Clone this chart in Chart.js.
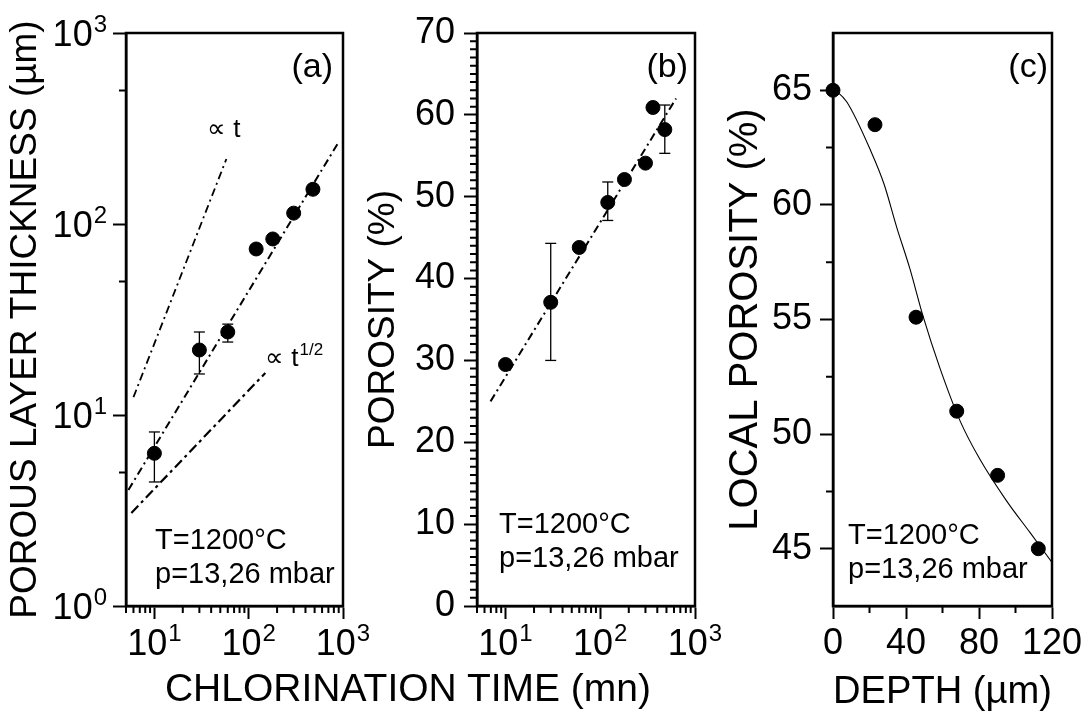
<!DOCTYPE html>
<html lang="en">
<head>
  <meta charset="UTF-8">
  <title>Porous layer growth during chlorination</title>
  <script src="https://cdn.jsdelivr.net/npm/chart.js"></script>
  <style>
    body { margin: 0; background: #fff; }
    #wrap { position: relative; width: 1088px; height: 713px; overflow: hidden; }
    canvas { position: absolute; top: 0; }
    #xtitle {
      position: absolute; top: 668px; left: 0; width: 816px; text-align: center;
      font-family: 'Liberation Sans', Arial, sans-serif; font-size: 39px; line-height: 39px; color: #000;
    }
  </style>
</head>
<body>
  <div id="wrap">
    <canvas id="chartA" width="400" height="713" style="left:0"></canvas>
    <canvas id="chartB" width="400" height="713" style="left:360px"></canvas>
    <canvas id="chartC" width="368" height="713" style="left:720px"></canvas>
    <div id="xtitle">CHLORINATION TIME (mn)</div>
  </div>
  <script>
    // (a) porous layer thickness (µm) vs chlorination time (mn)
    const timeA = [10, 30, 60, 120, 180, 300, 480];
    const thickA = [6.3, 21.9, 27.2, 74, 83.5, 114, 152];
    const thickLoA = [4.46, 16.4, 24.1, null, null, null, null];
    const thickHiA = [8.15, 27.2, 29.9, null, null, null, null];
    const fitTimeA = [5.3, 885];
    const fitThickA = [4.05, 265];
    const linTimeA = [6.0, 58];      // "∝ t" guide
    const linThickA = [12.4, 219];
    const sqrtTimeA = [5.7, 150];    // "∝ t^1/2" guide
    const sqrtThickA = [3.07, 16.6];

    // (b) porosity (%) vs chlorination time (mn)
    const timeB = [10, 30, 60, 120, 180, 300, 360, 480];
    const porB = [29.5, 37.1, 43.8, 49.3, 52.1, 54.1, 60.9, 58.2];
    const porLoB = [null, 30.0, null, 47.1, null, null, null, 55.3];
    const porHiB = [null, 44.3, null, 51.8, null, null, null, 61.2];
    const fitTimeB = [6.95, 631];
    const fitPorB = [25.0, 62.0];

    // (c) local porosity (%) vs depth (µm)
    const depthC = [0, 23, 45.5, 67.8, 90.2, 112.5];
    const locPorC = [65.0, 63.5, 55.1, 51.0, 48.2, 45.0];
    const fitDepthC = [0, 7.5, 21, 28, 35, 42, 49.5, 58.5, 69.5, 80.5, 95, 108, 120];
    const fitPorC = [65.1, 64.5, 62.3, 60.9, 59.0, 57.25, 55.1, 52.9, 50.6, 48.9, 47.1, 45.7, 44.4];

    // tick values
    const decadesX = [10, 100, 1000];
    const decadesY = [1, 10, 100, 1000];
    const porTicks = [0, 10, 20, 30, 40, 50, 60, 70];
    const depthTicks = [0, 40, 80, 120];
    const locTicks = [45, 50, 55, 60, 65];

    const FONT = "'Liberation Sans', Arial, sans-serif";

    const logMinorX = [];
    [1, 10, 100].forEach(d => {
      for (let k = 2; k <= 9; k++) {
        if (k * d >= 5) logMinorX.push(k * d);
      }
    });
    const porMinor = [];
    for (let v = 1; v < 70; v++) if (v % 10) porMinor.push(v);

    const pts = (xs, ys) => xs.map((x, i) => ({x, y: ys[i]}));
    function errPts(xs, lo, hi) {
      const out = [];
      xs.forEach((x, i) => {
        if (lo[i] == null) return;
        out.push({x, y: lo[i]}, {x, y: hi[i]}, {x, y: null});
      });
      return out;
    }

    const dots = data => ({
      data, backgroundColor: '#000', borderColor: '#000',
      pointRadius: 7, pointHoverRadius: 7, clip: false
    });
    const bars = data => ({
      data, showLine: true, spanGaps: false, borderColor: '#000', borderWidth: 1.3,
      pointStyle: 'line', pointRadius: 5.5, pointHoverRadius: 5.5,
      pointBorderColor: '#000', pointBorderWidth: 1.3
    });
    const dashed = (data, dash, w) => ({
      data, showLine: true, borderColor: '#000', borderWidth: w,
      borderDash: dash, pointRadius: 0, pointHoverRadius: 0
    });

    // power-of-ten label: "10" plus a raised exponent
    function drawPow(ctx, v, x, y, horiz) {
      const exp = String(Math.round(Math.log10(v)));
      ctx.font = '36px ' + FONT;
      const wBase = ctx.measureText('10').width;
      ctx.font = '24px ' + FONT;
      const wExp = ctx.measureText(exp).width;
      ctx.textAlign = 'left';
      ctx.textBaseline = 'alphabetic';
      let x0, base;
      if (horiz) {
        x0 = x - (wBase + wExp + 1) / 2;
        base = y;
      } else {
        x0 = x - wExp - 1 - wBase;
        base = y + 13;
      }
      ctx.font = '36px ' + FONT;
      ctx.fillText('10', x0, base);
      ctx.font = '24px ' + FONT;
      ctx.fillText(exp, x0 + wBase + 1, base - 14);
    }

    const framePlugin = {
      id: 'frame',
      beforeDatasetsDraw(chart) {
        const {ctx, chartArea: a} = chart;
        ctx.save();
        ctx.strokeStyle = '#000';
        ctx.lineWidth = 2.5;
        ctx.strokeRect(a.left, a.top, a.right - a.left, a.bottom - a.top);
        ctx.restore();
      },
      afterDraw(chart, args, opts) {
        const {ctx, chartArea: a, scales} = chart;
        ctx.save();
        ctx.strokeStyle = '#000';
        ctx.lineWidth = 2;
        ctx.beginPath();
        (opts.minorX || []).forEach(v => {
          const p = scales.x.getPixelForValue(v);
          ctx.moveTo(p, a.bottom); ctx.lineTo(p, a.bottom + 7);
        });
        (opts.minorY || []).forEach(v => {
          const p = scales.y.getPixelForValue(v);
          ctx.moveTo(a.left, p); ctx.lineTo(a.left - 7, p);
        });
        ctx.stroke();

        ctx.fillStyle = '#000';
        if (opts.powX) {
          scales.x.ticks.forEach(t => drawPow(ctx, t.value, scales.x.getPixelForValue(t.value), a.bottom + 49, true));
        }
        if (opts.powY) {
          scales.y.ticks.forEach(t => drawPow(ctx, t.value, a.left - 19, scales.y.getPixelForValue(t.value), false));
        }

        ctx.textBaseline = 'alphabetic';
        (opts.notes || []).forEach(n => {
          ctx.font = n.size + 'px ' + FONT;
          ctx.textAlign = n.right ? 'right' : 'left';
          const x = n.right ? a.right - n.dx : a.left + n.dx;
          const y = a.top + n.dy;
          ctx.fillText(n.text, x, y);
          if (n.sup) {
            const w = ctx.measureText(n.text).width;
            ctx.font = n.supSize + 'px ' + FONT;
            ctx.textAlign = 'left';
            ctx.fillText(n.sup, x + w + 1, y - n.raise);
          }
        });
        ctx.restore();
      }
    };

    const tickFont = {family: FONT, size: 36};

    function panel(id, o) {
      return new Chart(document.getElementById(id), {
        type: 'scatter',
        data: {datasets: o.datasets},
        options: {
          responsive: false,
          animation: false,
          events: [],
          layout: {padding: {top: 33, right: o.padRight, left: 0, bottom: 0}},
          plugins: {
            legend: {display: false},
            tooltip: {enabled: false},
            frame: {minorX: o.minorX, minorY: o.minorY, notes: o.notes, powX: o.xType === 'logarithmic', powY: o.yType === 'logarithmic'}
          },
          scales: {
            x: {
              type: o.xType, min: o.xMin, max: o.xMax,
              afterBuildTicks: s => { s.ticks = o.xMajors.map(v => ({value: v})); },
              afterFit: s => { s.height = 107; s.paddingLeft = 0; s.paddingRight = 0; },
              border: {color: '#000', width: 2.5},
              grid: {drawOnChartArea: false, tickLength: 13, tickWidth: 2, tickColor: '#000'},
              ticks: {display: o.xType !== 'logarithmic', font: tickFont, color: '#000', padding: 3, maxRotation: 0, autoSkip: false, callback: v => String(v)},
              title: o.xTitle
                ? {display: true, text: o.xTitle, color: '#000', font: {family: FONT, size: 39, lineHeight: 1.05}, padding: {top: 0, bottom: 0}}
                : {display: false}
            },
            y: {
              type: o.yType, min: o.yMin, max: o.yMax,
              afterBuildTicks: s => { s.ticks = o.yMajors.map(v => ({value: v})); },
              afterFit: s => { s.width = o.yWidth; s.paddingTop = 0; s.paddingBottom = 0; },
              border: {color: '#000', width: 2.5},
              grid: {drawOnChartArea: false, tickLength: 13, tickWidth: 2, tickColor: '#000'},
              ticks: {display: o.yType !== 'logarithmic', font: tickFont, color: '#000', padding: o.yPad, autoSkip: false, callback: v => String(v)},
              title: {display: true, text: o.yTitle, color: '#000', font: {family: FONT, size: o.yTitleSize}, padding: {top: o.yTitlePad, bottom: 0}}
            }
          }
        },
        plugins: [framePlugin]
      });
    }

    const condNotes = (dx, dy) => [
      {text: 'T=1200°C', dx, dy, size: 29},
      {text: 'p=13,26 mbar', dx, dy: dy + 34, size: 29}
    ];

    panel('chartA', {
      datasets: [
        dots(pts(timeA, thickA)),
        bars(errPts(timeA, thickLoA, thickHiA)),
        dashed(pts(fitTimeA, fitThickA), [8, 4, 2, 4], 2),
        dashed(pts(linTimeA, linThickA), [8, 4, 2, 4], 1.8),
        dashed(pts(sqrtTimeA, sqrtThickA), [10, 4, 3, 4], 2.2)
      ],
      padRight: 57, yWidth: 126, yPad: 6, yTitlePad: 4, yTitleSize: 37,
      xType: 'logarithmic', xMin: 5, xMax: 1000, xMajors: decadesX,
      yType: 'logarithmic', yMin: 1, yMax: 1000, yMajors: decadesY,
      yTitle: 'POROUS LAYER THICKNESS (µm)',
      minorX: logMinorX, minorY: [5, 50, 500],
      notes: [
        {text: '(a)', dx: 10, dy: 44, size: 34, right: true},
        {text: '\u221d t', dx: 81, dy: 104, size: 26},
        {text: '\u221d t', dx: 139, dy: 333, size: 26, sup: '1/2', supSize: 17, raise: 11},
        ...condNotes(29, 516)
      ]
    });

    panel('chartB', {
      datasets: [
        dots(pts(timeB, porB)),
        bars(errPts(timeB, porLoB, porHiB)),
        dashed(pts(fitTimeB, fitPorB), [8, 4, 2, 4], 2)
      ],
      padRight: 65, yWidth: 117, yPad: 9, yTitlePad: 2, yTitleSize: 37,
      xType: 'logarithmic', xMin: 5, xMax: 1000, xMajors: decadesX,
      yType: 'linear', yMin: 0, yMax: 70, yMajors: porTicks,
      yTitle: 'POROSITY (%)',
      minorX: logMinorX, minorY: porMinor,
      notes: [
        {text: '(b)', dx: 7, dy: 44, size: 34, right: true},
        ...condNotes(22, 500)
      ]
    });

    panel('chartC', {
      datasets: [
        dots(pts(depthC, locPorC)),
        Object.assign(dashed(pts(fitDepthC, fitPorC), [], 1.1), {cubicInterpolationMode: 'monotone'})
      ],
      padRight: 36, yWidth: 113, yPad: 8, yTitlePad: 2, yTitleSize: 40,
      xType: 'linear', xMin: 0, xMax: 120, xMajors: depthTicks,
      xTitle: 'DEPTH (µm)',
      yType: 'linear', yMin: 42.5, yMax: 67.5, yMajors: locTicks,
      yTitle: 'LOCAL POROSITY (%)',
      minorX: [20, 60, 100], minorY: [47.5, 52.5, 57.5, 62.5],
      notes: [
        {text: '(c)', dx: 4, dy: 44, size: 34, right: true},
        ...condNotes(15, 511)
      ]
    });
  </script>
</body>
</html>
